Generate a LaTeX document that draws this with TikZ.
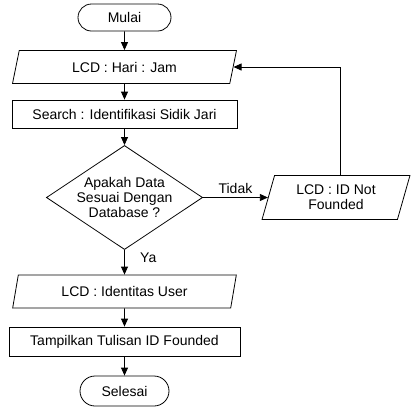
\documentclass[tikz,border=0pt]{standalone}
\usepackage{fontspec}
\setmainfont{Liberation Sans}
\usetikzlibrary{shapes.geometric,shapes.misc,arrows.meta}

\begin{document}
\begin{tikzpicture}[x=1pt,y=-1pt,line width=0.8pt,
	every node/.style={font=\fontsize{14}{15}\selectfont,align=center},
	terminal/.style={draw,rounded rectangle,inner sep=0pt,minimum width=93,minimum height=27},
	io/.style={draw,trapezium,trapezium left angle=72,trapezium right angle=108,trapezium stretches=true,inner sep=0pt},
	process/.style={draw,rectangle,inner sep=0pt},
	decision/.style={draw,diamond,aspect=1.5,inner sep=0pt,minimum width=153,minimum height=102},
	flow/.style={-{Triangle[length=8pt,width=7pt]}}]
	\useasboundingbox (0,0) rectangle (413,408);

	\node[terminal] (mulai) at (124.5,17.5) {Mulai};
	\node[io,minimum width=224,minimum height=33] (jam) at (124.5,67) {LCD : Hari : Jam};
	\node[process,minimum width=225,minimum height=28] (search) at (124.5,114) {Search : Identifikasi Sidik Jari};
	\node[decision] (cek) at (124.5,197.5) {Apakah Data\\Sesuai Dengan\\Database ?};
	\node[io,minimum width=149,minimum height=44] (notfound) at (336,197.5) {LCD : ID Not\\Founded};
	\node[io,minimum width=224,minimum height=33] (user) at (124.5,291.5) {LCD : Identitas User};
	\node[process,minimum width=231,minimum height=29] (tampil) at (124.5,341.5) {Tampilkan Tulisan ID Founded};
	\node[terminal,minimum width=89,minimum height=30] (selesai) at (124.5,391) {Selesai};

	\draw[flow] (mulai) -- (jam);
	\draw[flow] (jam) -- (search);
	\draw[flow] (search) -- (cek);
	\draw[flow] (cek) -- node[above] (tidak) {Tidak} (notfound);
	\draw[flow] ([xshift=4]notfound.north) |- (jam.east);
	\draw[flow] (cek) -- node[right,pos=0.3,xshift=12] (ya) {Ya} (user);
	\draw[flow] (user) -- (tampil);
	\draw[flow] (tampil) -- (selesai);
\end{tikzpicture}
\end{document}
